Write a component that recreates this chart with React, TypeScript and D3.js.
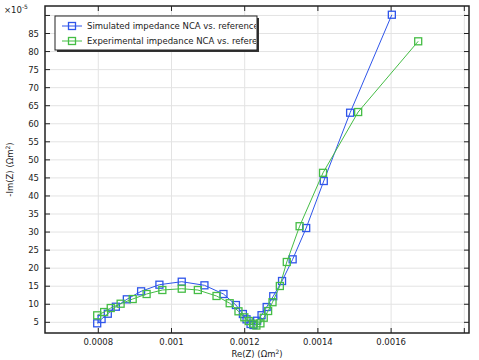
import * as d3 from 'd3';
import { useEffect, useRef } from 'react';

// Simulated impedance (blue)
const simRe = [0.000797, 0.000809, 0.000826, 0.000848, 0.000878, 0.000917, 0.000967, 0.001028, 0.00109, 0.001142, 0.001176, 0.001195, 0.001205, 0.001216, 0.001224, 0.001234, 0.001246, 0.00126, 0.001278, 0.001302, 0.001331, 0.001368, 0.001416, 0.001488, 0.001602];
const simIm = [4.72, 5.91, 7.38, 9.32, 11.37, 13.59, 15.42, 16.25, 15.25, 12.84, 9.79, 7.3, 5.83, 4.53, 4.25, 5.44, 6.97, 9.24, 12.23, 16.44, 22.45, 31.12, 44.14, 63.06, 90.2];
// Experimental impedance (green)
const expRe = [0.000797, 0.000816, 0.000834, 0.000861, 0.000894, 0.000932, 0.000975, 0.001028, 0.001072, 0.001123, 0.001159, 0.001183, 0.001199, 0.001211, 0.001223, 0.001232, 0.001243, 0.001252, 0.001264, 0.001276, 0.001296, 0.001315, 0.00135, 0.001414, 0.00151, 0.001674];
const expIm = [6.94, 7.85, 8.96, 10.15, 11.45, 12.84, 13.95, 14.31, 13.95, 12.29, 10.29, 8.05, 6.39, 5.36, 4.61, 4.11, 4.72, 6.27, 8.13, 10.57, 15.06, 21.71, 31.62, 46.41, 63.25, 82.84];

const xTicks = [0.0008, 0.001, 0.0012, 0.0014, 0.0016, 0.0018];
const xLabels = ['0.0008', '0.001', '0.0012', '0.0014', '0.0016', ''];
const yTicks = [5, 10, 15, 20, 25, 30, 35, 40, 45, 50, 55, 60, 65, 70, 75, 80, 85, 90];

const legendNames = ['Simulated impedance NCA vs. reference', 'Experimental impedance NCA vs. reference'];
const colors = ['#2f55ea', '#45bd45'];

const App = () => {
    const ref = useRef<SVGSVGElement>(null);
    useEffect(() => {
        const svg = d3.select(ref.current);
        svg.selectAll('*').remove();
        const left = 45, right = 469, top = 6, bottom = 333;
        const x = d3.scaleLinear().domain([0.0006544, 0.0018128]).range([left, right]);
        const y = d3.scaleLinear().domain([2.04, 92.62]).range([bottom, top]);
        const font = '"DejaVu Sans", sans-serif';
        const fs = '8.5px';

        svg.append('rect').attr('width', 479).attr('height', 360).attr('fill', '#fff');

        // grid
        svg.append('g').selectAll('line').data(xTicks).enter().append('line')
            .attr('x1', (d: any) => x(d)).attr('x2', (d: any) => x(d))
            .attr('y1', top).attr('y2', bottom)
            .attr('stroke', '#e3e3e3').attr('stroke-width', 1);
        svg.append('g').selectAll('line').data(yTicks).enter().append('line')
            .attr('y1', (d: any) => y(d)).attr('y2', (d: any) => y(d))
            .attr('x1', left).attr('x2', right)
            .attr('stroke', '#e3e3e3').attr('stroke-width', 1);

        // inward ticks on all sides
        const tk = svg.append('g').attr('stroke', '#222').attr('stroke-width', 1);
        xTicks.forEach((t) => {
            tk.append('line').attr('x1', x(t)).attr('x2', x(t)).attr('y1', bottom).attr('y2', bottom - 5);
            tk.append('line').attr('x1', x(t)).attr('x2', x(t)).attr('y1', top).attr('y2', top + 5);
        });
        yTicks.forEach((t) => {
            tk.append('line').attr('y1', y(t)).attr('y2', y(t)).attr('x1', left).attr('x2', left + 5);
            tk.append('line').attr('y1', y(t)).attr('y2', y(t)).attr('x1', right).attr('x2', right - 5);
        });

        // tick labels
        svg.append('g').selectAll('text').data(xTicks).enter().append('text')
            .attr('x', (d: any) => x(d)).attr('y', bottom + 12)
            .attr('text-anchor', 'middle').style('font-family', font).style('font-size', fs).attr('fill', '#222')
            .text((d: any, i: number) => xLabels[i]);
        svg.append('g').selectAll('text').data(yTicks.filter((d) => d < 90)).enter().append('text')
            .attr('x', left - 6).attr('y', (d: any) => y(d) + 3)
            .attr('text-anchor', 'end').style('font-family', font).style('font-size', fs).attr('fill', '#222')
            .text((d: any) => d);

        // axis titles
        const xt = svg.append('text').attr('x', (left + right) / 2).attr('y', 357)
            .attr('text-anchor', 'middle').style('font-family', font).style('font-size', fs).attr('fill', '#222');
        xt.append('tspan').text('Re(Z) (Ωm');
        xt.append('tspan').attr('dy', -3.5).style('font-size', '6px').text('2');
        xt.append('tspan').attr('dy', 3.5).text(')');
        const yt = svg.append('text').attr('transform', 'translate(13,' + ((top + bottom) / 2) + ')rotate(-90)')
            .attr('text-anchor', 'middle').style('font-family', font).style('font-size', fs).attr('fill', '#222');
        yt.append('tspan').text('-Im(Z) (Ωm');
        yt.append('tspan').attr('dy', -3.5).style('font-size', '6px').text('2');
        yt.append('tspan').attr('dy', 3.5).text(')');

        // exponent
        const ex = svg.append('text').attr('x', 4).attr('y', 13).style('font-family', font).style('font-size', fs).attr('fill', '#222');
        ex.append('tspan').text('×10');
        ex.append('tspan').attr('dy', -4).style('font-size', '6px').text('-5');

        // series
        const series = [
            { re: simRe, im: simIm, color: colors[0] },
            { re: expRe, im: expIm, color: colors[1] },
        ];
        const line = d3.line<number>().x((d: any) => d[0]).y((d: any) => d[1]) as any;
        series.forEach((s) => {
            const pts = s.re.map((r, i) => [x(r), y(s.im[i])]);
            svg.append('path').attr('d', line(pts)).attr('fill', 'none').attr('stroke', s.color).attr('stroke-width', 1);
            svg.append('g').selectAll('rect').data(pts).enter().append('rect')
                .attr('x', (d: any) => d[0] - 3.5).attr('y', (d: any) => d[1] - 3.5)
                .attr('width', 7).attr('height', 7)
                .attr('fill', 'none').attr('stroke', s.color).attr('stroke-width', 1.3);
        });

        // frame
        svg.append('rect').attr('x', left).attr('y', top).attr('width', right - left).attr('height', bottom - top)
            .attr('fill', 'none').attr('stroke', '#222').attr('stroke-width', 1.5);

        // legend
        const lx = 55, ly = 16, lw = 202, lh = 34;
        svg.append('rect').attr('x', lx + 2).attr('y', ly + 2).attr('width', lw).attr('height', lh).attr('fill', '#333');
        svg.append('rect').attr('x', lx).attr('y', ly).attr('width', lw).attr('height', lh)
            .attr('fill', '#fff').attr('stroke', '#222').attr('stroke-width', 1);
        svg.append('clipPath').attr('id', 'legclip').append('rect')
            .attr('x', lx).attr('y', ly).attr('width', lw - 1).attr('height', lh);
        const lg = svg.append('g').attr('clip-path', 'url(#legclip)');
        legendNames.forEach((name, i) => {
            const cy = ly + 10 + i * 15;
            lg.append('line').attr('x1', lx + 7).attr('x2', lx + 27).attr('y1', cy).attr('y2', cy)
                .attr('stroke', colors[i]).attr('stroke-width', 1);
            lg.append('rect').attr('x', lx + 17 - 3.5).attr('y', cy - 3.5).attr('width', 7).attr('height', 7)
                .attr('fill', 'none').attr('stroke', colors[i]).attr('stroke-width', 1.3);
            lg.append('text').attr('x', lx + 32).attr('y', cy + 3)
                .style('font-family', font).style('font-size', fs).attr('fill', '#222').text(name);
        });
    }, []);
    return (
        <svg ref={ref} width={479} height={360} style={{ position: 'absolute', left: 0, top: 0 }}></svg>
    );
};

export default App;
